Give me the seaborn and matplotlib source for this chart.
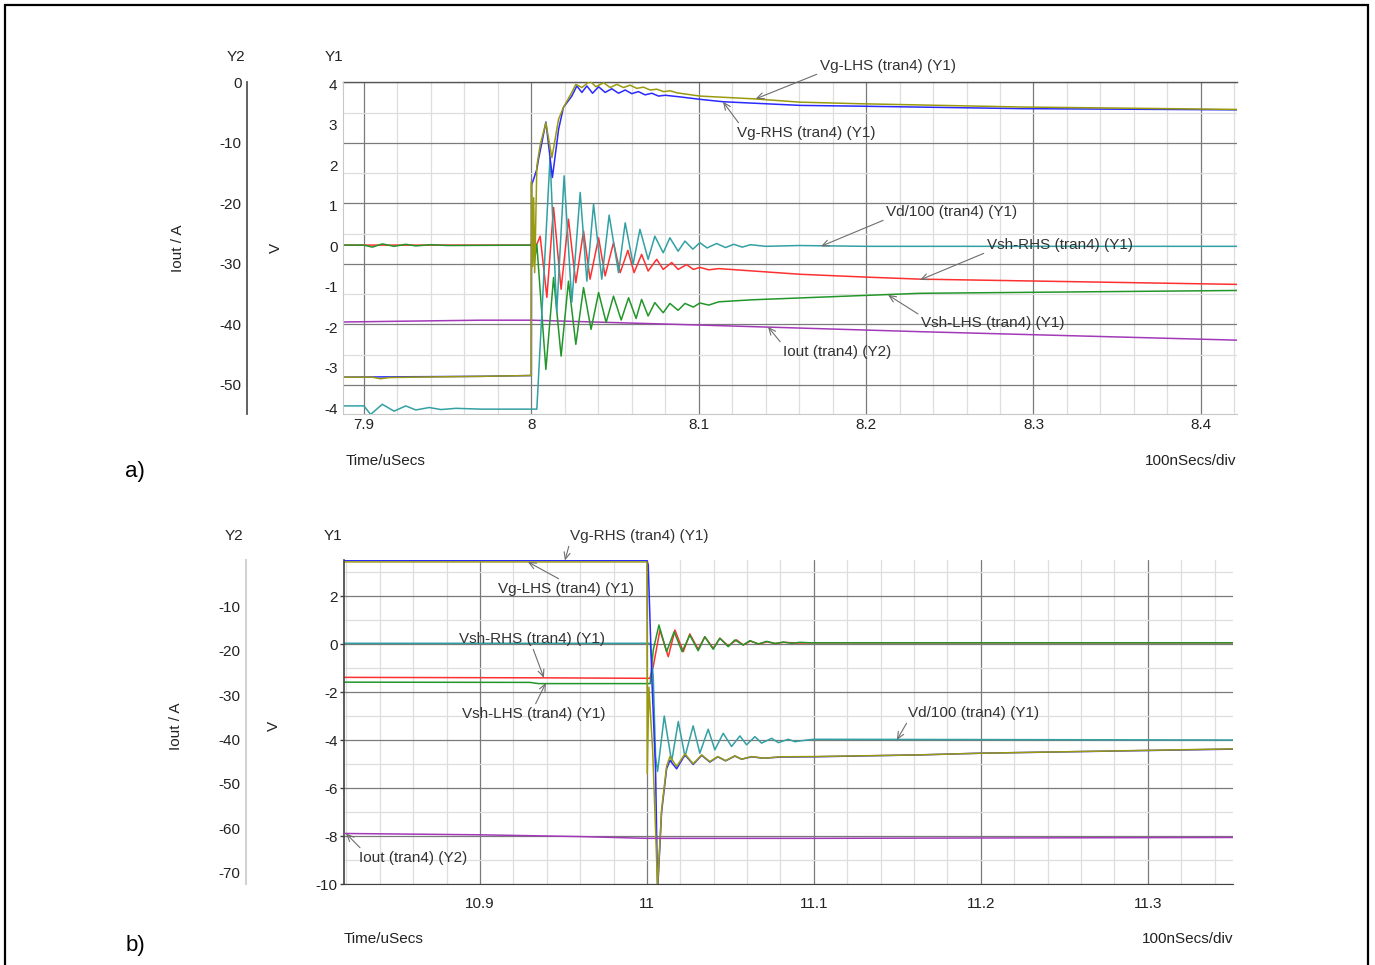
import numpy as np
import matplotlib
matplotlib.use("Agg")
import matplotlib.pyplot as plt
from matplotlib.ticker import MultipleLocator, FixedLocator, FuncFormatter
from matplotlib.patches import Rectangle
import seaborn as sns

# ---------------- data: panel a) ----------------
A_VGL_T = [7.8875, 7.905, 7.91, 7.915, 7.93, 7.97, 8.0, 8.0001, 8.0008, 8.0014, 8.002, 8.0026, 8.0033,
           8.0053, 8.0087, 8.0123, 8.0163, 8.0192, 8.0242, 8.0266, 8.0302, 8.0351, 8.0386, 8.0432,
           8.0471, 8.0511, 8.0551, 8.0590, 8.0630, 8.0670, 8.0710, 8.0750, 8.0790, 8.0830, 8.0870,
           8.1007, 8.1336, 8.1605, 8.197, 8.2925, 8.4216]
A_VGL_V = [-3.23, -3.23, -3.27, -3.24, -3.23, -3.21, -3.19, 1.6, -0.5, 1.2, -0.65, 0.5, 1.98,
           2.5, 3.05, 2.19, 3.14, 3.43, 3.80, 4.0, 3.92, 4.08, 3.94, 4.04,
           3.92, 4.0, 3.92, 3.98, 3.90, 3.93, 3.86, 3.88, 3.82, 3.84, 3.79,
           3.71, 3.64, 3.56, 3.52, 3.44, 3.38]

A_VGR_T = [7.8875, 7.97, 8.0, 8.0001, 8.0033, 8.0043, 8.0065, 8.0087, 8.0126, 8.0163, 8.0192, 8.0242,
           8.0272, 8.0302, 8.0332, 8.0366, 8.0402, 8.0441, 8.0481, 8.0521, 8.0561, 8.0600, 8.0640,
           8.0680, 8.0720, 8.0760, 8.0800, 8.0888, 8.1007, 8.1145, 8.1605, 8.197, 8.2925, 8.4216]
A_VGR_V = [-3.23, -3.21, -3.19, 1.5, 1.9, 2.15, 2.6, 3.07, 1.70, 2.89, 3.43, 3.71,
           3.96, 3.80, 3.96, 3.78, 3.94, 3.80, 3.89, 3.78, 3.86, 3.77, 3.82,
           3.74, 3.78, 3.71, 3.73, 3.69, 3.63, 3.57, 3.48, 3.46, 3.40, 3.37]

A_VD_T = [7.8875, 7.9, 7.904, 7.911, 7.918, 7.925, 7.931, 7.939, 7.946, 7.955, 7.97, 8.0, 8.0033,
          8.0112, 8.0152, 8.0196, 8.0242, 8.0292, 8.0332, 8.0372, 8.0421, 8.0465, 8.0521, 8.0561,
          8.0608, 8.0649, 8.0698, 8.0738, 8.0788, 8.0828, 8.0877, 8.0918, 8.0965, 8.1007, 8.105,
          8.1107, 8.116, 8.121, 8.126, 8.131, 8.14, 8.16, 8.2, 8.4216]
A_VD_V = [-3.94, -3.94, -4.15, -3.90, -4.07, -3.94, -4.04, -3.98, -4.03, -4.00, -4.02, -4.02, -4.02,
          2.19, -1.63, 1.74, -1.38, 1.33, -0.86, 1.04, -0.81, 0.77, -0.65, 0.58,
          -0.44, 0.42, -0.32, 0.25, -0.16, 0.21, -0.12, 0.13, -0.07, 0.09, -0.04,
          0.07, -0.03, 0.05, -0.02, 0.04, 0.0, 0.02, 0.0, 0.0]

A_VSR_T = [7.8875, 8.0, 8.0033, 8.0053, 8.0093, 8.0133, 8.0178, 8.0222, 8.0266, 8.0312, 8.0351, 8.0402,
           8.0441, 8.0491, 8.0531, 8.0577, 8.0614, 8.0659, 8.0698, 8.0749, 8.0788, 8.0839, 8.0877,
           8.0928, 8.0968, 8.1007, 8.106, 8.112, 8.1605, 8.2, 8.2322, 8.4216]
A_VSR_V = [0.03, 0.03, 0.05, 0.25, -1.26, 0.96, -1.06, 0.67, -0.90, 0.38, -0.81, 0.21,
           -0.73, 0.09, -0.65, -0.10, -0.65, -0.20, -0.61, -0.32, -0.57, -0.40, -0.57,
           -0.45, -0.57, -0.52, -0.58, -0.55, -0.69, -0.76, -0.81, -0.94]

A_VSL_T = [7.8875, 7.9, 7.905, 7.911, 7.918, 7.925, 7.931, 7.94, 7.95, 8.0, 8.0009, 8.0018, 8.0033,
           8.0087, 8.0133, 8.0178, 8.0222, 8.0266, 8.0312, 8.0357, 8.0402, 8.0447, 8.0491, 8.0537,
           8.0581, 8.0626, 8.0659, 8.0698, 8.0738, 8.0788, 8.0828, 8.0877, 8.0918, 8.0968, 8.1007,
           8.106, 8.112, 8.132, 8.2322, 8.4216]
A_VSL_V = [0.03, 0.03, -0.02, 0.06, 0.0, 0.05, 0.01, 0.04, 0.02, 0.03, 0.3, -0.4, 0.05,
           -3.04, -0.77, -2.71, -0.86, -2.42, -1.02, -2.05, -1.14, -1.88, -1.23, -1.82,
           -1.27, -1.78, -1.31, -1.72, -1.39, -1.64, -1.41, -1.58, -1.41, -1.50, -1.40,
           -1.45, -1.37, -1.32, -1.16, -1.09]

A_IOUT_T = [7.8875, 7.97, 8.0, 8.1, 8.2322, 8.4216]
A_IOUT_V = [-39.6, -39.3, -39.3, -40.1, -41.2, -42.6]

# ---------------- data: panel b) ----------------
B_VGL_T = [10.8186, 11.0, 11.0002, 11.0012, 11.0035, 11.0064, 11.0088, 11.0118, 11.0138, 11.0178,
           11.0228, 11.0277, 11.0328, 11.0377, 11.0425, 11.0471, 11.0527, 11.0567, 11.0627, 11.07,
           11.08, 11.1, 11.1635, 11.2, 11.351]
B_VGL_V = [3.42, 3.42, -5.4, -1.8, -4.5, -10.1, -6.9, -5.1, -4.69, -5.1,
           -4.58, -4.99, -4.62, -4.9, -4.69, -4.86, -4.66, -4.8, -4.69, -4.76,
           -4.70, -4.69, -4.62, -4.55, -4.37]

B_VGR_T = [10.8186, 11.0, 11.0008, 11.003, 11.0052, 11.0064, 11.0088, 11.0118, 11.0138, 11.0178,
           11.0228, 11.0277, 11.0328, 11.0377, 11.0425, 11.0471, 11.0527, 11.0567, 11.0627, 11.07,
           11.08, 11.1, 11.1635, 11.2, 11.351]
B_VGR_V = [3.48, 3.48, 3.3, -1.5, -5.3, -10.3, -7.0, -5.2, -4.85, -5.2,
           -4.62, -5.02, -4.64, -4.92, -4.7, -4.87, -4.67, -4.8, -4.7, -4.76,
           -4.71, -4.70, -4.62, -4.55, -4.38]

B_VD_T = [10.8186, 11.0, 11.002, 11.0038, 11.0052, 11.0064, 11.0104, 11.0148, 11.0188, 11.0228,
          11.0277, 11.0317, 11.0367, 11.0407, 11.0457, 11.0507, 11.0557, 11.0597, 11.0647, 11.0687,
          11.0747, 11.0787, 11.0847, 11.0887, 11.0957, 11.1, 11.351]
B_VD_V = [0.03, 0.03, 0.03, -1.36, -4.69, -5.31, -3.0, -4.9, -3.23, -4.69,
          -3.41, -4.55, -3.55, -4.41, -3.72, -4.27, -3.83, -4.2, -3.86, -4.13,
          -3.93, -4.11, -3.97, -4.07, -4.0, -3.97, -4.0]

B_VSR_T = [10.8186, 10.94, 11.0, 11.0018, 11.0038, 11.0078, 11.0128, 11.0168, 11.0218, 11.0257,
           11.0307, 11.0347, 11.0397, 11.0437, 11.0487, 11.0537, 11.0577, 11.062, 11.067, 11.072,
           11.077, 11.082, 11.09, 11.1, 11.351]
B_VSR_V = [-1.39, -1.41, -1.43, -1.43, -0.94, 0.58, -0.53, 0.58, -0.32, 0.42,
           -0.22, 0.30, -0.18, 0.24, -0.08, 0.17, -0.04, 0.12, 0.0, 0.09,
           0.02, 0.07, 0.04, 0.05, 0.05]

B_VSL_T = [10.8186, 10.93, 10.935, 11.0, 11.002, 11.0038, 11.0072, 11.0118, 11.0163, 11.0211,
           11.0257, 11.0307, 11.0347, 11.0397, 11.0437, 11.0487, 11.0527, 11.0577, 11.0617, 11.0667,
           11.0717, 11.0767, 11.0817, 11.0867, 11.0917, 11.0976, 11.351]
B_VSL_V = [-1.59, -1.60, -1.65, -1.65, -1.65, -0.25, 0.79, -0.32, 0.51, -0.32,
           0.37, -0.28, 0.30, -0.22, 0.24, -0.11, 0.17, -0.04, 0.14, 0.0,
           0.11, 0.02, 0.08, 0.03, 0.07, 0.05, 0.05]

B_IOUT_T = [10.8186, 10.9, 10.96, 11.0, 11.1, 11.351]
B_IOUT_V = [-61.2, -61.5, -61.9, -62.3, -62.3, -62.1]

# tick values
A_XTICKS = [7.9, 8.0, 8.1, 8.2, 8.3, 8.4]
A_Y1TICKS = [4, 3, 2, 1, 0, -1, -2, -3, -4]
A_Y2TICKS = [0, -10, -20, -30, -40, -50]
B_XTICKS = [10.9, 11.0, 11.1, 11.2, 11.3]
B_Y1TICKS = [2, 0, -2, -4, -6, -8, -10]
B_Y2TICKS = [-10, -20, -30, -40, -50, -60, -70]

# ---------------- style ----------------
sns.set_style("white")
plt.rcParams['font.family'] = ['Liberation Sans', 'DejaVu Sans']
plt.rcParams['axes.unicode_minus'] = False
FS = 11
TXT = '#222222'
C_VGL = '#9a9a10'
C_VGR = '#2a2aff'
C_VD = '#33a0a4'
C_VSR = '#ff3030'
C_VSL = '#23962a'
C_IOUT = '#a23ab8'
MAJ = '#7a7a7a'
MIN = '#dedede'
LW = 1.1

W, H = 1375, 965
fig = plt.figure(figsize=(W / 100, H / 100), dpi=100)
fmt = FuncFormatter(lambda v, p: '{:g}'.format(round(v, 3)))


def fx(x):
    return x / W


def fy(y):
    return 1 - y / H


def line(ax, t, v, c):
    sns.lineplot(x=t, y=v, ax=ax, color=c, lw=LW, estimator=None, sort=False, legend=False)


def ann(ax, text, xy, center, relpos, xycoords):
    ax.annotate(text, xy=xy, xycoords=xycoords,
                xytext=(center[0], H - center[1]), textcoords='figure pixels',
                ha='center', va='center', fontsize=FS, color='#333333',
                annotation_clip=False,
                arrowprops=dict(arrowstyle='->,head_length=0.45,head_width=0.2', color='#6e6e6e',
                                lw=0.8, shrinkA=0, shrinkB=0, relpos=relpos))


# ================= panel a =================
l, r, t, b = 343, 1237, 82.3, 414
axA2 = fig.add_axes([fx(l), fy(b), fx(r - l), fy(t) - fy(b)])   # Y2 axis (grid + Iout)
axA1 = axA2.twinx()                                                 # Y1 axis (voltages)

line(axA2, A_IOUT_T, A_IOUT_V, C_IOUT)
axA2.set_xlim(7.8875, 8.4216)
axA2.set_ylim(-54.8, 0)
axA2.xaxis.set_major_locator(FixedLocator(A_XTICKS))
axA2.xaxis.set_minor_locator(MultipleLocator(0.02))
axA2.yaxis.set_major_locator(FixedLocator(A_Y2TICKS))
axA2.yaxis.set_minor_locator(MultipleLocator(5))
axA2.xaxis.set_major_formatter(fmt)
axA2.yaxis.set_major_formatter(fmt)
axA2.grid(which='major', color=MAJ, lw=0.9)
axA2.grid(which='minor', color=MIN, lw=0.9)
axA2.set_axisbelow(True)
axA2.spines['left'].set_position(('outward', 96 * 0.72))
axA2.spines['left'].set_color('#555555')
axA2.spines['left'].set_linewidth(1.3)
axA2.spines['top'].set_color('#555555')
axA2.spines['top'].set_linewidth(1.0)
axA2.spines['bottom'].set_color('#c8c8c8')
axA2.spines['right'].set_visible(False)
axA2.tick_params(axis='y', which='both', length=0, pad=4, labelsize=FS, labelcolor=TXT)
axA2.tick_params(axis='x', which='both', length=0, pad=3, labelsize=FS, labelcolor=TXT)
axA2.set_xlabel('')
axA2.set_ylabel('')

for tt, vv, cc in [(A_VSR_T, A_VSR_V, C_VSR), (A_VSL_T, A_VSL_V, C_VSL), (A_VD_T, A_VD_V, C_VD),
                   (A_VGR_T, A_VGR_V, C_VGR), (A_VGL_T, A_VGL_V, C_VGL)]:
    line(axA1, tt, vv, cc)
axA1.set_xlim(7.8875, 8.4216)
axA1.set_ylim(-4.14, 4.05)
axA1.yaxis.set_ticks_position('left')
axA1.yaxis.set_label_position('left')
axA1.yaxis.set_major_locator(FixedLocator(A_Y1TICKS))
axA1.yaxis.set_major_formatter(fmt)
for s in ['top', 'right', 'bottom']:
    axA1.spines[s].set_visible(False)
axA1.spines['left'].set_visible(True)
axA1.spines['left'].set_color('#c8c8c8')
axA1.tick_params(axis='y', which='both', length=0, pad=4, labelsize=FS, labelcolor=TXT)
axA1.set_xlabel('')
axA1.set_ylabel('')

ann(axA1, "Vg-LHS (tran4) (Y1)", (8.134, 3.64), (888, 66), (0, 0), 'data')
ann(axA1, "Vg-RHS (tran4) (Y1)", (8.1145, 3.57), (806, 133), (0.03, 1), 'data')
ann(axA1, "Vd/100 (tran4) (Y1)", (8.173, 0.0), (952, 212), (0, 0), 'data')
ann(axA1, "Vsh-RHS (tran4) (Y1)", (8.2322, -0.83), (1060, 245), (0, 0), 'data')
ann(axA1, "Vsh-LHS (tran4) (Y1)", (8.2131, -1.20), (993, 323), (0, 1), 'data')
ann(axA1, "Iout (tran4) (Y2)", (8.1414, -40.4), (837, 352), (0, 1), axA2.transData)

fig.text(fx(236), fy(57), "Y2", ha='center', va='center', fontsize=FS, color=TXT)
fig.text(fx(334), fy(57), "Y1", ha='center', va='center', fontsize=FS, color=TXT)
fig.text(fx(178), fy(248), "Iout / A", ha='center', va='center', rotation=90, fontsize=FS, color=TXT)
fig.text(fx(276), fy(248), "V", ha='center', va='center', rotation=90, fontsize=FS, color=TXT)
fig.text(fx(346), fy(461), "Time/uSecs", ha='left', va='center', fontsize=FS, color=TXT)
fig.text(fx(1236), fy(461), "100nSecs/div", ha='right', va='center', fontsize=FS, color=TXT)
fig.text(fx(135), fy(471), "a)", ha='center', va='center', fontsize=16, color='black')

# ================= panel b =================
l, r, t, b = 344, 1233, 560, 884
axB1 = fig.add_axes([fx(l), fy(b), fx(r - l), fy(t) - fy(b)])   # Y1 axis (grid + voltages)
axB2 = axB1.twinx()                                                 # Y2 axis (Iout)

for tt, vv, cc in [(B_VSR_T, B_VSR_V, C_VSR), (B_VSL_T, B_VSL_V, C_VSL), (B_VD_T, B_VD_V, C_VD),
                   (B_VGR_T, B_VGR_V, C_VGR), (B_VGL_T, B_VGL_V, C_VGL)]:
    line(axB1, tt, vv, cc)
axB1.set_xlim(10.8186, 11.351)
axB1.set_ylim(-10, 3.5)
axB1.xaxis.set_major_locator(FixedLocator(B_XTICKS))
axB1.xaxis.set_minor_locator(MultipleLocator(0.02))
axB1.yaxis.set_major_locator(FixedLocator(B_Y1TICKS))
axB1.yaxis.set_minor_locator(MultipleLocator(1))
axB1.xaxis.set_major_formatter(fmt)
axB1.yaxis.set_major_formatter(fmt)
axB1.grid(which='major', color=MAJ, lw=0.9)
axB1.grid(which='minor', color=MIN, lw=0.9)
axB1.set_axisbelow(True)
axB1.spines['left'].set_color('#404040')
axB1.spines['left'].set_linewidth(1.2)
axB1.spines['bottom'].set_color('#404040')
axB1.spines['top'].set_visible(False)
axB1.spines['right'].set_visible(False)
axB1.tick_params(axis='y', which='major', length=3, width=1, color='#404040', pad=1.5,
                 labelsize=FS, labelcolor=TXT)
axB1.tick_params(axis='y', which='minor', length=0)
axB1.tick_params(axis='x', which='both', length=0, pad=9, labelsize=FS, labelcolor=TXT)
axB1.set_xlabel('')
axB1.set_ylabel('')

line(axB2, B_IOUT_T, B_IOUT_V, C_IOUT)
axB2.set_xlim(10.8186, 11.351)
axB2.set_ylim(-72.6, 0.5)
axB2.yaxis.set_ticks_position('left')
axB2.yaxis.set_label_position('left')
axB2.yaxis.set_major_locator(FixedLocator(B_Y2TICKS))
axB2.yaxis.set_major_formatter(fmt)
for s in ['top', 'right', 'bottom']:
    axB2.spines[s].set_visible(False)
axB2.spines['left'].set_visible(True)
axB2.spines['left'].set_position(('outward', 98 * 0.72))
axB2.spines['left'].set_color('#d2d2d2')
axB2.spines['left'].set_linewidth(1.5)
axB2.tick_params(axis='y', which='both', length=0, pad=4, labelsize=FS, labelcolor=TXT)
axB2.set_xlabel('')
axB2.set_ylabel('')

ann(axB2, "Vg-RHS (tran4) (Y1)", (10.9509, 3.48), (639, 536), (0, 0), axB1.transData)
ann(axB2, "Vg-LHS (tran4) (Y1)", (10.9287, 3.42), (566, 589), (0.49, 1), axB1.transData)
ann(axB2, "Vsh-RHS (tran4) (Y1)", (10.9383, -1.41), (532, 639), (0.5, 0), axB1.transData)
ann(axB2, "Vsh-LHS (tran4) (Y1)", (10.9395, -1.62), (534, 714), (0.5, 1), axB1.transData)
ann(axB2, "Vd/100 (tran4) (Y1)", (11.1497, -4.0), (974, 713), (0, 0), axB1.transData)
ann(axB2, "Iout (tran4) (Y2)", (10.8198, -61.2), (413, 858), (0.04, 1), 'data')

fig.text(fx(234), fy(536), "Y2", ha='center', va='center', fontsize=FS, color=TXT)
fig.text(fx(333), fy(536), "Y1", ha='center', va='center', fontsize=FS, color=TXT)
fig.text(fx(176), fy(726), "Iout / A", ha='center', va='center', rotation=90, fontsize=FS, color=TXT)
fig.text(fx(274), fy(726), "V", ha='center', va='center', rotation=90, fontsize=FS, color=TXT)
fig.text(fx(344), fy(939), "Time/uSecs", ha='left', va='center', fontsize=FS, color=TXT)
fig.text(fx(1233), fy(939), "100nSecs/div", ha='right', va='center', fontsize=FS, color=TXT)
fig.text(fx(135), fy(946), "b)", ha='center', va='center', fontsize=16, color='black')

# outer frame
fig.patches.append(Rectangle((fx(5), -0.05), fx(1368 - 5), fy(5) + 0.05, transform=fig.transFigure,
                             fill=False, edgecolor='black', lw=1.6))

fig.savefig("out.png", dpi=100)
